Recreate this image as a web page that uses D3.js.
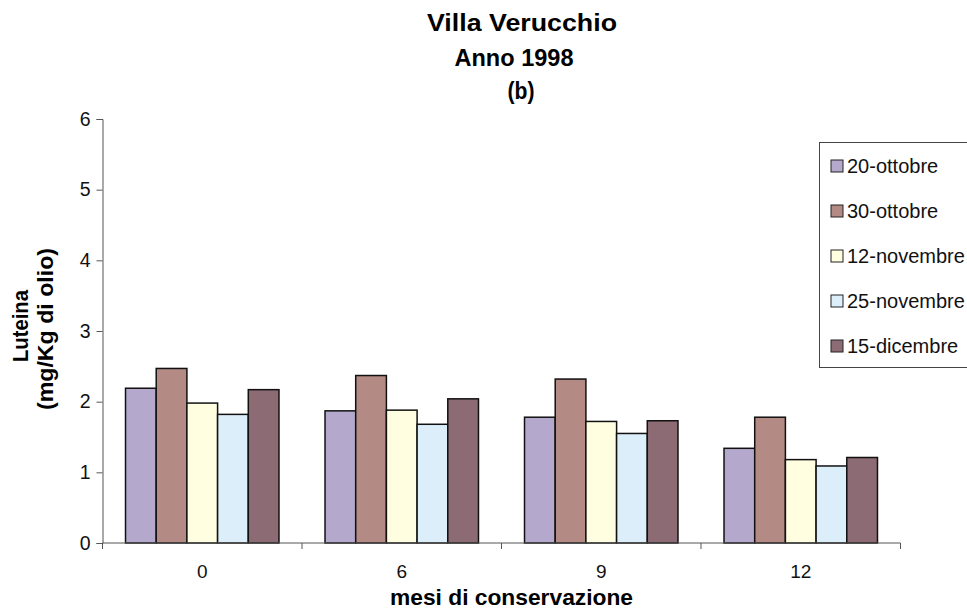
<!DOCTYPE html>
<html>
<head>
<meta charset="utf-8">
<script src="https://cdn.jsdelivr.net/npm/d3@7"></script>
<style>
  html, body { margin: 0; padding: 0; background: #fff; }
  svg { display: block; font-family: "Liberation Sans", Arial, Helvetica, sans-serif; }
</style>
</head>
<body>
<svg id="chart" width="967" height="609"></svg>
<script>
// Storage months (x categories)
const months = ["0", "6", "9", "12"];
// Harvest dates (series)
const harvests = ["20-ottobre", "30-ottobre", "12-novembre", "25-novembre", "15-dicembre"];
// Lutein content, mg/Kg of oil, one array per harvest date (by month)
const ottobre20 = [2.19, 1.87, 1.78, 1.34];
const ottobre30 = [2.47, 2.37, 2.32, 1.78];
const novembre12 = [1.98, 1.88, 1.72, 1.18];
const novembre25 = [1.82, 1.68, 1.55, 1.09];
const dicembre15 = [2.17, 2.04, 1.73, 1.21];
const yTicks = [0, 1, 2, 3, 4, 5, 6];
const seriesColors = ["#B4A9CC", "#B48A84", "#FFFEE0", "#DDEEFB", "#8D6B75"];

const seriesValues = [ottobre20, ottobre30, novembre12, novembre25, dicembre15];

const svg = d3.select("#chart");
const plot = { left: 102.5, right: 900.5, top: 119, bottom: 543 };

const x0 = d3.scaleBand().domain(months).range([plot.left, plot.right]).padding(0);
const x1 = d3.scaleBand().domain(harvests).range([0, x0.bandwidth()])
  .paddingInner(0).paddingOuter(0.75);
const y = d3.scaleLinear().domain([0, 6]).range([plot.bottom, plot.top]);
const color = d3.scaleOrdinal().domain(harvests).range(seriesColors);

// Bars
const groups = svg.append("g").selectAll("g")
  .data(months)
  .join("g")
  .attr("transform", m => `translate(${x0(m)},0)`);

groups.selectAll("rect")
  .data((m, i) => harvests.map((h, s) => ({ h, v: seriesValues[s][i] })))
  .join("rect")
  .attr("x", d => x1(d.h))
  .attr("y", d => y(d.v))
  .attr("width", x1.bandwidth())
  .attr("height", d => y(0) - y(d.v))
  .attr("fill", d => color(d.h))
  .attr("stroke", "#111")
  .attr("stroke-width", 1.5);

// Y axis
const yAxis = svg.append("g")
  .attr("transform", `translate(${plot.left},0)`)
  .call(d3.axisLeft(y).tickValues(yTicks).tickFormat(d3.format("d")).tickSize(6).tickPadding(6));
yAxis.select(".domain").attr("stroke", "#555");
yAxis.selectAll(".tick line").attr("stroke", "#555");
yAxis.selectAll(".tick text")
  .attr("font-size", 19.5)
  .attr("fill", "#111")
  .attr("font-family", "'Liberation Sans', Arial, sans-serif");

// X axis: ticks sit between the month groups
const xAxis = svg.append("g")
  .attr("transform", `translate(0,${plot.bottom})`);
xAxis.append("line")
  .attr("x1", plot.left).attr("x2", plot.right)
  .attr("stroke", "#555");
const boundaries = months.map(m => x0(m)).concat([x0(months[months.length - 1]) + x0.bandwidth()]);
xAxis.selectAll(".sep")
  .data(boundaries)
  .join("line")
  .attr("class", "sep")
  .attr("x1", d => d).attr("x2", d => d)
  .attr("y1", 0).attr("y2", 6)
  .attr("stroke", "#555");
xAxis.selectAll(".lbl")
  .data(months)
  .join("text")
  .attr("class", "lbl")
  .attr("x", m => x0(m) + x0.bandwidth() / 2)
  .attr("y", 35)
  .attr("text-anchor", "middle")
  .attr("font-size", 19)
  .attr("fill", "#111")
  .text(m => m);

// Titles
const titleLines = [
  { t: "Villa Verucchio", x: 522, y: 31, len: 190 },
  { t: "Anno 1998", x: 514, y: 66, len: 119 },
  { t: "(b)", x: 521, y: 99, len: 27 }
];
svg.selectAll(".title")
  .data(titleLines)
  .join("text")
  .attr("class", "title")
  .attr("x", d => d.x).attr("y", d => d.y)
  .attr("text-anchor", "middle")
  .attr("font-size", 23.5)
  .attr("font-weight", "bold")
  .attr("fill", "#000")
  .attr("textLength", d => d.len)
  .attr("lengthAdjust", "spacingAndGlyphs")
  .text(d => d.t);

// X axis title
svg.append("text")
  .attr("x", 511.5).attr("y", 605)
  .attr("text-anchor", "middle")
  .attr("font-size", 21.5)
  .attr("font-weight", "bold")
  .attr("textLength", 243)
  .attr("lengthAdjust", "spacingAndGlyphs")
  .text("mesi di conservazione");

// Y axis title (two lines, rotated)
const yTitle = [
  { t: "Luteina", x: 28, y: 326, len: 72 },
  { t: "(mg/Kg di olio)", x: 53, y: 329, len: 162 }
];
svg.selectAll(".ytitle")
  .data(yTitle)
  .join("text")
  .attr("class", "ytitle")
  .attr("transform", d => `translate(${d.x},${d.y}) rotate(-90)`)
  .attr("text-anchor", "middle")
  .attr("font-size", 22)
  .attr("font-weight", "bold")
  .attr("textLength", d => d.len)
  .attr("lengthAdjust", "spacingAndGlyphs")
  .text(d => d.t);

// Legend
const legend = svg.append("g").attr("transform", "translate(819,142)");
legend.append("rect")
  .attr("x", 0.5).attr("y", 0.5)
  .attr("width", 180).attr("height", 225)
  .attr("fill", "#fff")
  .attr("stroke", "#444")
  .attr("stroke-width", 1);
const items = legend.selectAll(".item")
  .data(harvests)
  .join("g")
  .attr("class", "item")
  .attr("transform", (h, i) => `translate(0,${24 + i * 45})`);
items.append("rect")
  .attr("x", 12).attr("y", -6)
  .attr("width", 12).attr("height", 12)
  .attr("fill", h => color(h))
  .attr("stroke", "#222")
  .attr("stroke-width", 1);
items.append("text")
  .attr("x", 28).attr("y", 0)
  .attr("dy", "0.35em")
  .attr("font-size", 20)
  .attr("fill", "#111")
  .text(h => h);
</script>
</body>
</html>
